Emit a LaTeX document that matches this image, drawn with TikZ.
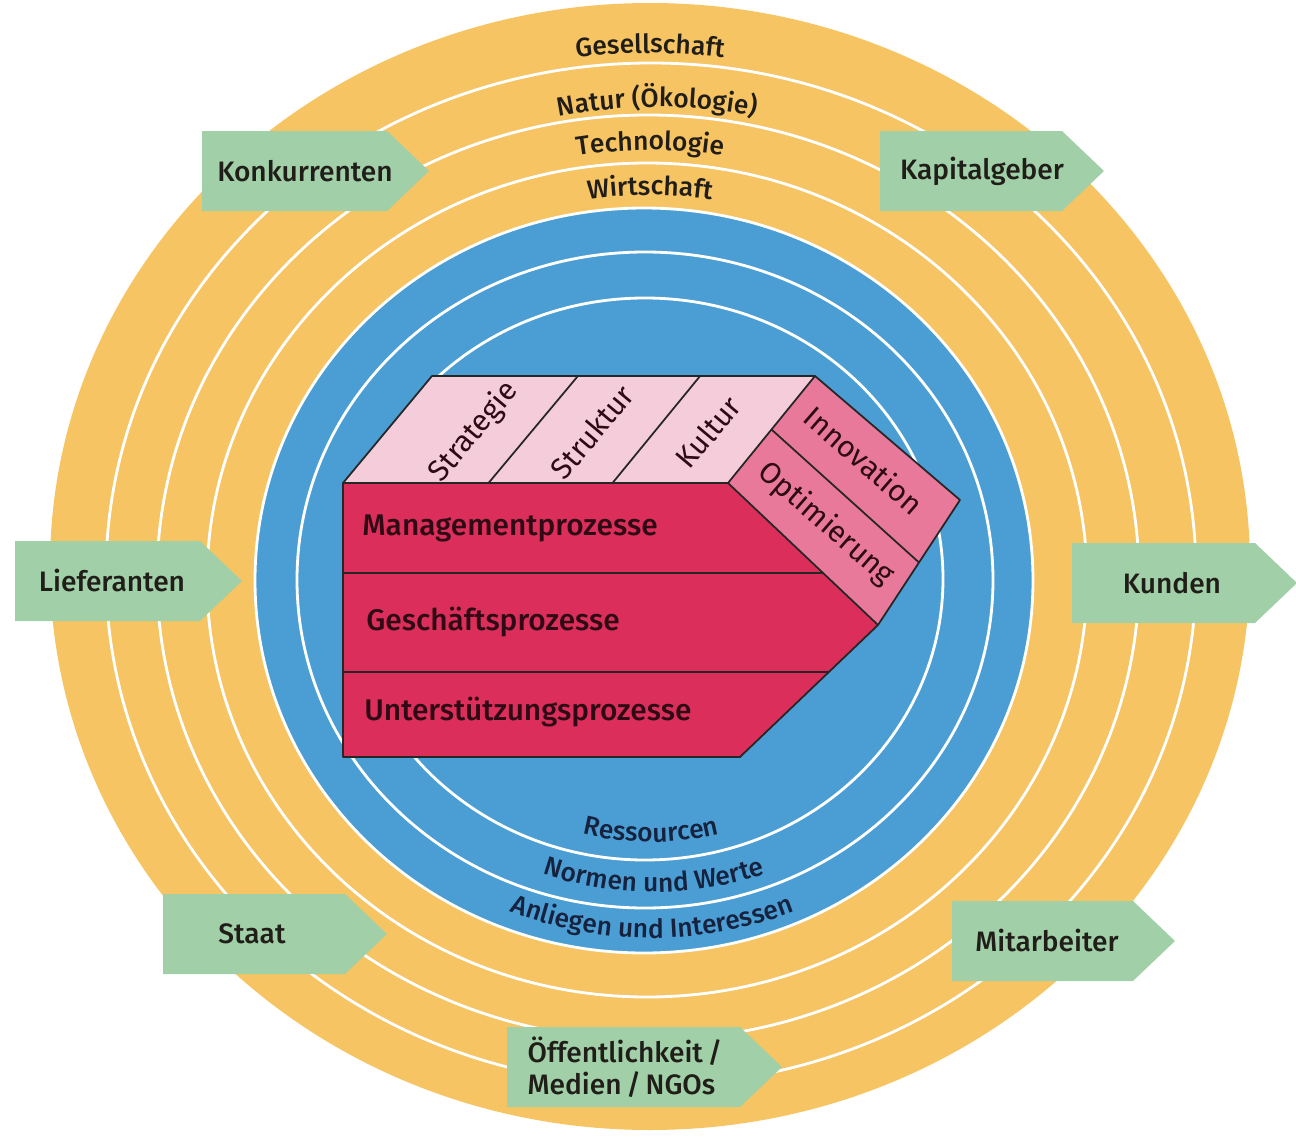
\documentclass[tikz,border=0pt]{standalone}
\usepackage{fontspec}
\setmainfont{Fira Sans}[BoldFont={Fira Sans Medium}]
\usetikzlibrary{calc,decorations.text}
\definecolor{ringorange}{RGB}{246,196,98}
\definecolor{ringblue}{RGB}{74,158,212}
\definecolor{taggreen}{RGB}{161,208,168}
\definecolor{procred}{RGB}{219,46,90}
\definecolor{toppink}{RGB}{245,205,218}
\definecolor{sidepink}{RGB}{233,121,154}
\definecolor{labeldark}{RGB}{33,30,25}
\definecolor{labelnavy}{RGB}{22,34,62}
\definecolor{procdark}{RGB}{45,10,20}
\newcommand{\ringfont}{\fontsize{15}{17}\selectfont\bfseries}

\begin{document}
\begin{tikzpicture}[x=0.02cm,y=0.02cm,
  ringline/.style={draw=white,line width=1.6pt},
  ringtext/.style={decorate,decoration={text along path,text align=center}},
  tagtext/.style={font=\fontsize{16}{18}\selectfont\bfseries,text=labeldark,align=left,inner sep=0pt},
  proctext/.style={font=\fontsize{17}{19}\selectfont\bfseries,text=procdark,anchor=west,inner sep=0pt},
  facetext/.style={font=\fontsize{17}{19}\selectfont,text=procdark,inner sep=0pt},
  edge/.style={draw=black!85,line width=1pt,line join=round}]
  \useasboundingbox (0,0) rectangle (1296,-1139);

  % ---- outer rings (environment spheres) ----
  \fill[ringorange] (650,-566.5) ellipse[x radius=600,y radius=563.5];
  \foreach \cx/\cy/\rx/\ry in {651/574/545/511, 648/577.5/491/462.5, 647/580/440/417}{
    \draw[ringline] (\cx,-\cy) ellipse[x radius=\rx,y radius=\ry];
  }

  % ---- inner rings (interaction issues) ----
  \filldraw[ringblue,ringline] (644,-580.5) ellipse[x radius=389,y radius=372.5];
  \foreach \cx/\cy/\rx/\ry in {645/580/348/328, 645/579/298/281}{
    \draw[ringline] (\cx,-\cy) ellipse[x radius=\rx,y radius=\ry];
  }

  % ---- ring labels ----
  \path[ringtext,decoration={text color=labeldark,text={|\ringfont|Gesellschaft}}]
    (650,-570) ++(120:548 and 517) arc[start angle=120,end angle=60,x radius=548,y radius=517];
  \path[ringtext,decoration={text color=labeldark,text={|\ringfont|Natur (Ökologie)}}]
    (657,-570) ++(120:491 and 463) arc[start angle=120,end angle=60,x radius=491,y radius=463];
  \path[ringtext,decoration={text color=labeldark,text={|\ringfont|Technologie}}]
    (650,-570) ++(120:445 and 420) arc[start angle=120,end angle=60,x radius=445,y radius=420];
  \path[ringtext,decoration={text color=labeldark,text={|\ringfont|Wirtschaft}}]
    (650,-570) ++(120:398 and 375) arc[start angle=120,end angle=60,x radius=398,y radius=375];

  \path[ringtext,decoration={text color=labelnavy,text={|\ringfont|Ressourcen}}]
    (651,-580) ++(235:276 and 262) arc[start angle=235,end angle=305,x radius=276,y radius=262];
  \path[ringtext,decoration={text color=labelnavy,text={|\ringfont|Normen und Werte}}]
    (654,-580) ++(235:330 and 312) arc[start angle=235,end angle=305,x radius=330,y radius=312];
  \path[ringtext,decoration={text color=labelnavy,text={|\ringfont|Anliegen und Interessen}}]
    (652,-580) ++(235:377 and 358) arc[start angle=235,end angle=305,x radius=377,y radius=358];

  % ---- stakeholder tags ----
  \foreach \nm/\xa/\ym/\xb/\tx/\lbl in {konk/202/171/387/305/Konkurrenten,
                                        kapi/880/171/1062/982/Kapitalgeber,
                                        lief/15/581/200/112/Lieferanten,
                                        kund/1072/583/1255/1172/Kunden,
                                        staat/163/934/345/252/Staat,
                                        mita/952/941/1133/1047/Mitarbeiter,
                                        oeff/507/1067/740/625/{Öffentlichkeit\,/\\Medien\,/\,NGOs}}{
    \fill[taggreen] (\xa,-\ym+40) -- (\xb,-\ym+40) -- (\xb+42,-\ym) -- (\xb,-\ym-40) -- (\xa,-\ym-40) -- cycle;
    \node[tagtext] (\nm) at (\tx,-\ym) {\lbl};
  }

  % ---- process block ----
  \coordinate (fTL) at (343,-483);
  \coordinate (fTR) at (728,-483);
  \coordinate (tip) at (878,-625);
  \coordinate (fBR) at (740,-757);
  \coordinate (fBL) at (343,-757);
  \coordinate (bL) at (432,-376);
  \coordinate (bR) at (815,-376);
  \coordinate (sR) at (960,-500);
  \coordinate (mgR) at ($(fTR)!0.634!(tip)$);
  \coordinate (usR) at ($(tip)!0.356!(fBR)$);

  \fill[toppink] (fTL) -- (bL) -- (bR) -- (fTR) -- cycle;
  \fill[sidepink] (fTR) -- (bR) -- (sR) -- (tip) -- cycle;
  \fill[procred] (fTL) -- (fTR) -- (tip) -- (fBR) -- (fBL) -- cycle;

  \draw[edge] (fTL) -- (bL) -- (bR) -- (sR) -- (tip) -- (fBR) -- (fBL) -- cycle;
  \draw[edge] (fTL) -- (fTR) -- (bR) (fTR) -- (tip);
  \draw[edge] ($(fTL)!0.378!(fTR)$) -- ($(bL)!0.381!(bR)$);
  \draw[edge] ($(fTL)!0.70!(fTR)$) -- ($(bL)!0.70!(bR)$);
  \draw[edge] ($(fTR)!0.5!(bR)$) -- ($(tip)!0.5!(sR)$);
  \draw[edge] (fTL |- mgR) -- (mgR);
  \draw[edge] (fTL |- usR) -- (usR);

  \node[proctext] (mgmt) at (362,-528) {Managementprozesse};
  \node[proctext] (gesch) at (366,-622) {Geschäftsprozesse};
  \node[proctext] (unter) at (364,-712) {Unterstützungsprozesse};

  \node[facetext,rotate=50] (strat) at (474,-432) {Strategie};
  \node[facetext,rotate=50] (strukt) at (592,-432) {Struktur};
  \node[facetext,rotate=50] (kult) at (708,-432) {Kultur};
  \node[facetext,rotate=-41] (innov) at (864,-460) {Innovation};
  \node[facetext,rotate=-41] (optim) at (826,-524) {Optimierung};
\end{tikzpicture}
\end{document}
